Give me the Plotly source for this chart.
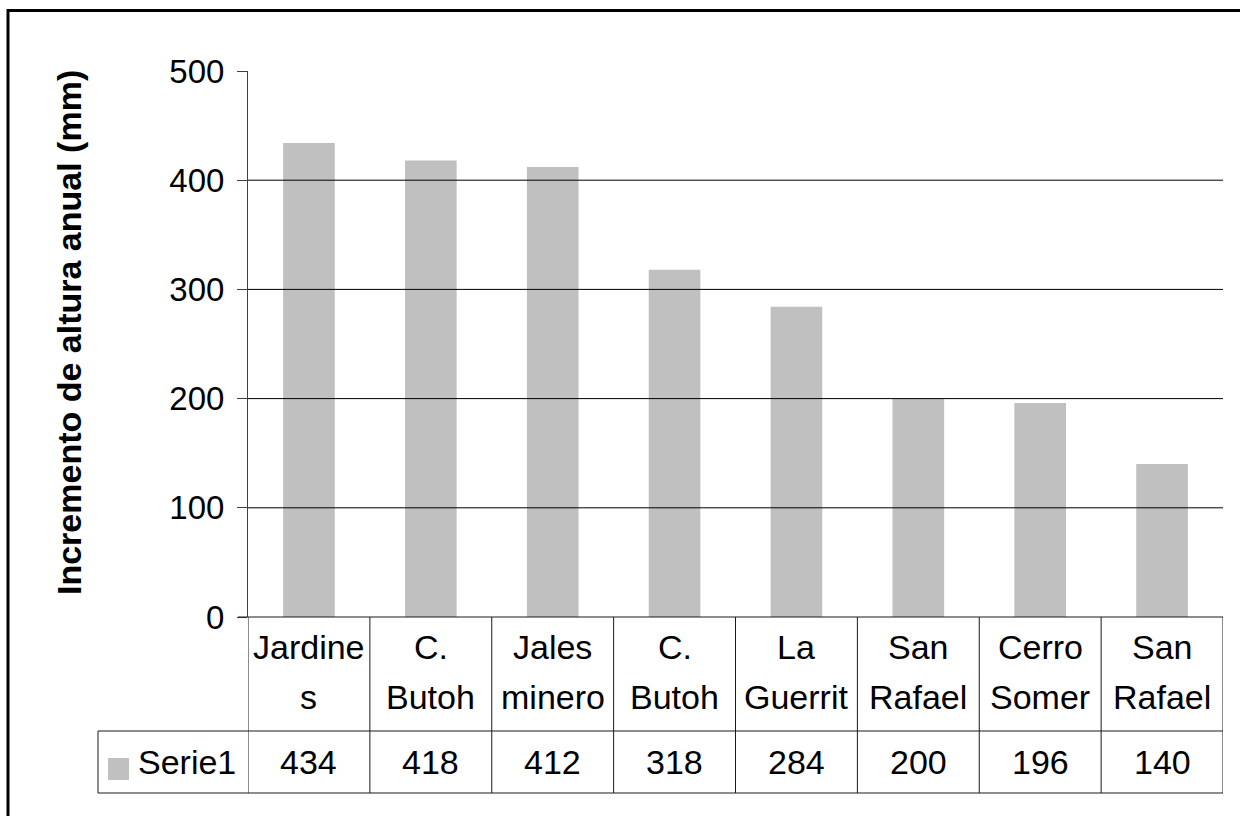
import plotly.graph_objects as go

# Data
category_lines = [
    ["Jardine", "s"],
    ["C.", "Butoh"],
    ["Jales", "minero"],
    ["C.", "Butoh"],
    ["La", "Guerrit"],
    ["San", "Rafael"],
    ["Cerro", "Somer"],
    ["San", "Rafael"],
]
values = [434, 418, 412, 318, 284, 200, 196, 140]
series_name = "Serie1"
y_ticks = [0, 100, 200, 300, 400, 500]
grid_values = [100, 200, 300, 400]
y_title = "Incremento de altura anual (mm)"

W, H = 1240, 816
FONT = "Liberation Sans, Arial, sans-serif"
BAR_COLOR = "#C0C0C0"
LINE_COLOR = "#1a1a1a"


def px(x):
    return x / W


def py(y):
    return 1 - y / H


n = len(values)
xs = list(range(n))

# Plot area geometry (pixels)
plot_left, plot_right = 248, 1223
y0_pix, y500_pix = 617, 71
table_mid, table_bottom = 731, 793
table_left = 98

fig = go.Figure()
fig.add_trace(go.Bar(
    x=xs, y=values, marker=dict(color=BAR_COLOR, line=dict(width=0)),
    width=0.424, name=series_name, showlegend=False, hoverinfo="skip",
))

shapes = []
# horizontal gridlines
for g in grid_values:
    shapes.append(dict(type="line", xref="paper", yref="y",
                       x0=px(plot_left), x1=px(plot_right), y0=g, y1=g,
                       line=dict(color="#000000", width=1)))

# data table: vertical separators
for i in range(n + 1):
    shapes.append(dict(type="line", xref="x", yref="paper",
                       x0=i - 0.5, x1=i - 0.5, y0=py(y0_pix), y1=py(table_bottom),
                       line=dict(color=LINE_COLOR, width=1)))
# data table: horizontal separators
shapes.append(dict(type="line", xref="paper", yref="paper",
                   x0=px(238), x1=px(plot_right), y0=py(y0_pix), y1=py(y0_pix),
                   line=dict(color=LINE_COLOR, width=1)))
for yy in (table_mid, table_bottom):
    shapes.append(dict(type="line", xref="paper", yref="paper",
                       x0=px(table_left), x1=px(plot_right), y0=py(yy), y1=py(yy),
                       line=dict(color=LINE_COLOR, width=1)))
shapes.append(dict(type="line", xref="paper", yref="paper",
                   x0=px(table_left), x1=px(table_left), y0=py(table_mid), y1=py(table_bottom),
                   line=dict(color=LINE_COLOR, width=1)))
# legend key in the table
shapes.append(dict(type="rect", xref="paper", yref="paper",
                   x0=px(108), x1=px(129), y0=py(758), y1=py(780),
                   fillcolor=BAR_COLOR, line=dict(width=0)))
# outer chart frame
shapes.append(dict(type="rect", xref="paper", yref="paper",
                   x0=px(8), x1=px(W + 20), y0=py(10.5), y1=py(H + 20),
                   line=dict(color="#000000", width=3), fillcolor="rgba(0,0,0,0)"))

annotations = []
tfont = dict(family=FONT, size=34, color="#000000")
for i, lines in enumerate(category_lines):
    for j, txt in enumerate(lines):
        annotations.append(dict(x=i, y=py(646.5 + 50 * j), xref="x", yref="paper",
                                text=txt, showarrow=False, font=tfont,
                                xanchor="center", yanchor="middle"))
    annotations.append(dict(x=i, y=py(762), xref="x", yref="paper",
                            text=str(values[i]), showarrow=False, font=tfont,
                            xanchor="center", yanchor="middle"))
annotations.append(dict(x=px(136), y=py(762), xref="paper", yref="paper",
                        text=series_name, showarrow=False, font=tfont,
                        xanchor="left", yanchor="middle"))
annotations.append(dict(x=px(69), y=py(333), xref="paper", yref="paper",
                        text="<b>" + y_title + "</b>", textangle=-90, showarrow=False,
                        font=dict(family=FONT, size=34, color="#000000"),
                        xanchor="center", yanchor="middle"))

fig.update_layout(
    width=W, height=H, autosize=False,
    margin=dict(l=0, r=0, t=0, b=0, pad=0),
    paper_bgcolor="#ffffff", plot_bgcolor="#ffffff",
    showlegend=False,
    shapes=shapes, annotations=annotations,
    xaxis=dict(domain=[px(plot_left), px(plot_right)], range=[-0.5, n - 0.5],
               showticklabels=False, showgrid=False, zeroline=False,
               showline=False, ticks="", automargin=False),
    yaxis=dict(domain=[py(y0_pix), py(y500_pix)], range=[0, 500],
               tickvals=y_ticks, ticktext=[str(t) for t in y_ticks],
               ticks="outside", ticklen=10, tickcolor="#404040", tickwidth=1,
               showline=True, linecolor="#404040", linewidth=1,
               showgrid=False, zeroline=False, automargin=False,
               tickfont=dict(family=FONT, size=33, color="#000000"),
               ticklabelstandoff=6),
)

fig.write_html("out.html")
